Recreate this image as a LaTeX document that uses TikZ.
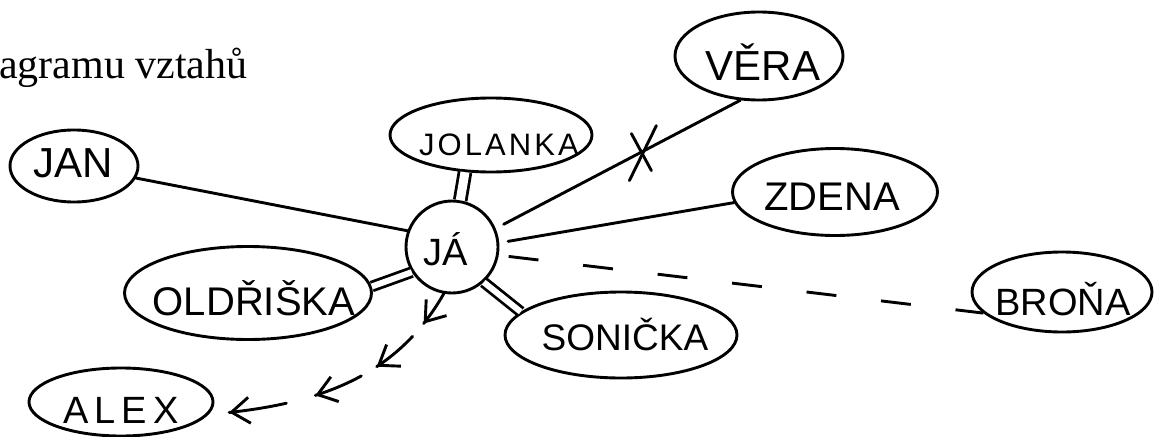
\documentclass[tikz,border=0pt]{standalone}
\usepackage{fontspec}
\setmainfont{Liberation Sans}
\newfontfamily\hand{Liberation Sans}
\newfontfamily\titlefont{Liberation Serif}
\usetikzlibrary{shapes.geometric,arrows.meta,decorations.markings}
\tikzset{
  handtip/.tip={Straight Barb[length=18pt,width=26pt]},
  smalltip/.tip={Straight Barb[length=9pt,width=16pt]}
}
\begin{document}
\begin{tikzpicture}[x=1pt,y=-1pt,
  person/.style={ellipse, draw, line width=2.9pt, inner sep=0pt},
  lbl/.style 2 args={font=\hand\fontsize{#1}{#1}\selectfont, text height=#2, text depth=0pt, inner sep=0pt},
  conn/.style={line width=2.9pt, line cap=round},
  dbl/.style={double, line width=2.8pt, double distance=#1},
  dbl/.default=6pt]
\useasboundingbox (0,0) rectangle (1155,436);
\fill[white] (0,0) rectangle (1155,436);

% title fragment
\node[anchor=base west, inner sep=0pt, font=\titlefont\fontsize{42}{42}\selectfont] (title) at (-1,78) {agramu vztahů};

% people
\node[person, minimum width=128pt, minimum height=72pt,
  label={[name=tjan, lbl={42}{30pt}, xshift=-1pt, yshift=4pt]center:JAN}] (jan) at (74,166) {};
\node[person, minimum width=202pt, minimum height=74pt,
  label={[name=tjol, lbl={31}{22pt}, font=\hand\fontsize{31}{31}\selectfont\addfontfeature{LetterSpace=10}, xshift=8pt, yshift=-9pt]center:JOLANKA}] (jolanka) at (491,135) {};
\node[person, minimum width=168pt, minimum height=88pt,
  label={[name=tver, lbl={42}{30pt}, xshift=4pt, yshift=-9pt]center:VĚRA}] (vera) at (759,56) {};
\node[person, minimum width=205pt, minimum height=87pt,
  label={[name=tzde, lbl={40}{28pt}, xshift=-3pt, yshift=-4pt]center:ZDENA}] (zdena) at (835,192) {};
\node[person, minimum width=180pt, minimum height=80pt,
  label={[name=tbro, lbl={38}{27pt}, xshift=1pt, yshift=-10pt]center:BROŇA}] (brona) at (1062,292) {};
\node[person, minimum width=247pt, minimum height=93pt,
  label={[name=told, lbl={40}{29pt}, xshift=6pt, yshift=-8pt]center:OLDŘIŠKA}] (oldriska) at (248,293) {};
\node[person, minimum width=232pt, minimum height=86pt,
  label={[name=tson, lbl={37}{26pt}, xshift=4pt, yshift=-2pt]center:SONIČKA}] (sonicka) at (621,335) {};
\node[person, minimum width=184pt, minimum height=68pt,
  label={[name=tale, lbl={38}{27pt}, font=\hand\fontsize{38}{38}\selectfont\addfontfeature{LetterSpace=16}, yshift=-8pt]center:ALEX}] (alex) at (121,402) {};
\node[circle, draw, line width=2.9pt, minimum size=92pt, inner sep=0pt,
  label={[name=tja, lbl={38}{27pt}, xshift=-6pt, yshift=-5pt]center:JÁ}] (ja) at (452,247) {};

% relations
\draw[conn] (jan.-11) -- (ja.160);
\draw[dbl=9pt] (jolanka.-125) -- (ja.80);
\draw[conn, shorten >=9pt] (vera.-113) -- coordinate[pos=0.40] (xm) (ja.23);
\draw[conn] ([shift={(-11,-18)}]xm) -- ([shift={(9,19)}]xm);
\draw[conn] ([shift={(14,-26)}]xm) -- ([shift={(-13,29)}]xm);
\draw[conn, shorten >=9pt] (zdena.186) -- (ja.5);
\draw[conn, line cap=butt, dash pattern=on 30pt off 45pt, shorten <=10pt] (ja.-10) -- (brona.195);
\draw[dbl] (oldriska.3) -- (ja.212);
\draw[dbl] (ja.-48) -- (sonicka.167);
\draw[conn, dash pattern=on 36pt off 17pt on 47pt off 18pt on 50pt off 30pt on 58pt off 300pt,
  postaction={decorate},
  decoration={markings,
    mark=at position 36pt with {\arrow{handtip}},
    mark=at position 100pt with {\arrow{handtip}},
    mark=at position 168pt with {\arrow{handtip}},
    mark=at position 256pt with {\arrow{handtip}},
    mark=at position 1 with {\arrow{smalltip}}}]
  (ja.-100) .. controls (400,370) and (330,405) .. (alex.-8);
\end{tikzpicture}
\end{document}
